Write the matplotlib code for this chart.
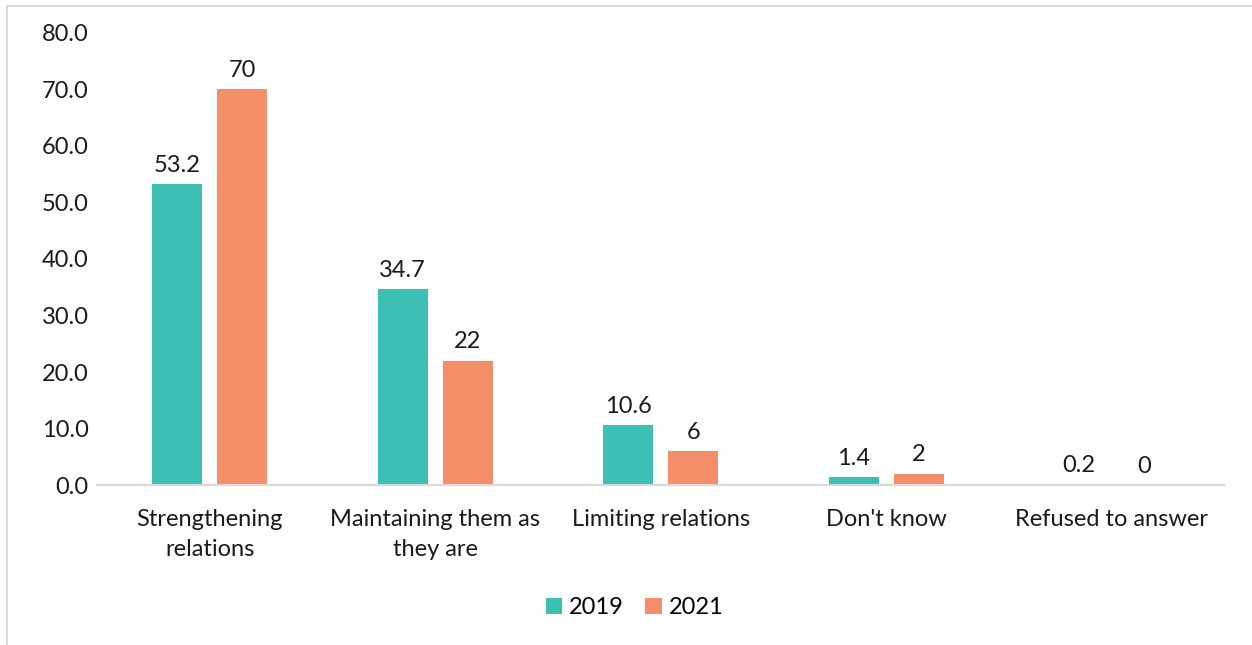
import matplotlib.pyplot as plt
import numpy as np
from matplotlib.patches import Rectangle

CATEGORIES = [
    "Strengthening\nrelations",
    "Maintaining them as\nthey are",
    "Limiting relations",
    "Don't know",
    "Refused to answer",
]
VALUES_2019 = [53.2, 34.7, 10.6, 1.4, 0.2]
VALUES_2021 = [70, 22, 6, 2, 0]
LABELS_2019 = ["53.2", "34.7", "10.6", "1.4", "0.2"]
LABELS_2021 = ["70", "22", "6", "2", "0"]

TEAL = "#3CBFB4"
SALMON = "#F48D6A"
FRAME = "#D9D9D9"
INK = "#1A1A1A"
FS = 17

plt.rcParams["font.family"] = ["Lato", "DejaVu Sans"]

fig = plt.figure(figsize=(12.52, 6.45), dpi=100)
ax = fig.add_axes([0.0775, 0.248, 0.9005, 0.701])

x = np.arange(len(CATEGORIES))
width = 0.222
offset = 0.144

bars_a = ax.bar(x - offset, VALUES_2019, width, color=TEAL, label="2019")
bars_b = ax.bar(x + offset, VALUES_2021, width, color=SALMON, label="2021")

for bars, labels in ((bars_a, LABELS_2019), (bars_b, LABELS_2021)):
    for bar, text in zip(bars, labels):
        ax.annotate(
            text,
            (bar.get_x() + bar.get_width() / 2, bar.get_height()),
            xytext=(0, 6),
            textcoords="offset points",
            ha="center",
            va="bottom",
            fontsize=FS,
            color=INK,
        )

ax.set_xlim(-0.5, len(CATEGORIES) - 0.5)
ax.set_ylim(0, 80)
ax.set_yticks(np.arange(0, 81, 10))
ax.set_yticklabels([f"{v:.1f}" for v in np.arange(0, 81, 10)])
ax.set_xticks(x)
ax.set_xticklabels(CATEGORIES, linespacing=1.55)
ax.tick_params(axis="y", length=0, labelsize=FS, colors=INK, pad=6)
ax.tick_params(axis="x", length=0, labelsize=FS, colors=INK, pad=17)

for spine in ["top", "right", "left"]:
    ax.spines[spine].set_visible(False)
ax.spines["bottom"].set_color(FRAME)
ax.spines["bottom"].set_linewidth(1.6)

ax.legend(
    loc="center",
    bbox_to_anchor=(0.507, 0.058),
    bbox_transform=fig.transFigure,
    ncol=2,
    frameon=False,
    fontsize=FS,
    handlelength=0.7,
    handleheight=0.7,
    handletextpad=0.3,
    columnspacing=0.9,
)

# light outer frame on the left and top edges
fig.patches.append(
    Rectangle(
        (7 / 1252, -0.05),
        1.1,
        1.05 - 6 / 645,
        transform=fig.transFigure,
        fill=False,
        edgecolor=FRAME,
        linewidth=1.5,
    )
)

fig.savefig("out.png", dpi=100)
